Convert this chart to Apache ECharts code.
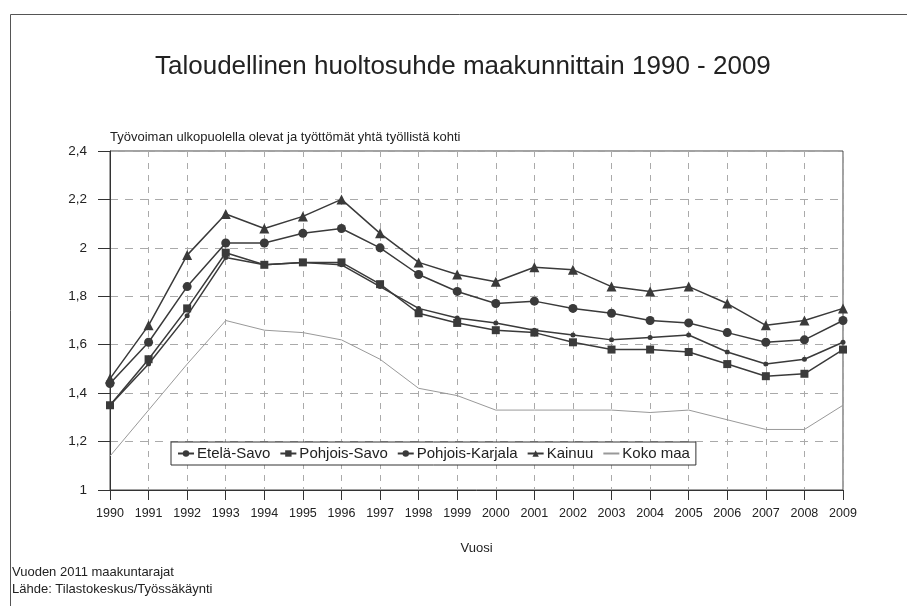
<!DOCTYPE html>
<html>
<head>
<meta charset="utf-8">
<script src="https://cdn.jsdelivr.net/npm/echarts@6/dist/echarts.min.js"></script>
<style>
  html, body { margin: 0; padding: 0; background: #fff; }
  #chart { width: 907px; height: 606px; }
</style>
</head>
<body>
<div id="chart"></div>
<script>
// Taloudellinen huoltosuhde maakunnittain 1990 - 2009
const years = ['1990','1991','1992','1993','1994','1995','1996','1997','1998','1999',
               '2000','2001','2002','2003','2004','2005','2006','2007','2008','2009'];
const etelaSavo      = [1.35,1.52,1.72,1.96,1.93,1.94,1.93,1.84,1.75,1.71,1.69,1.66,1.64,1.62,1.63,1.64,1.57,1.52,1.54,1.61];
const pohjoisSavo    = [1.35,1.54,1.75,1.98,1.93,1.94,1.94,1.85,1.73,1.69,1.66,1.65,1.61,1.58,1.58,1.57,1.52,1.47,1.48,1.58];
const pohjoisKarjala = [1.44,1.61,1.84,2.02,2.02,2.06,2.08,2.00,1.89,1.82,1.77,1.78,1.75,1.73,1.70,1.69,1.65,1.61,1.62,1.70];
const kainuu         = [1.46,1.68,1.97,2.14,2.08,2.13,2.20,2.06,1.94,1.89,1.86,1.92,1.91,1.84,1.82,1.84,1.77,1.68,1.70,1.75];
const kokoMaa        = [1.14,1.33,1.52,1.70,1.66,1.65,1.62,1.54,1.42,1.39,1.33,1.33,1.33,1.33,1.32,1.33,1.29,1.25,1.25,1.35];

const FONT = '"Liberation Sans", Arial, sans-serif';
const INK = '#222';
const LINE = '#3a3a3a';

function regionSeries(name, data, symbol, size) {
  return {
    name, type: 'line', data,
    symbol, symbolSize: size,
    lineStyle: { color: LINE, width: 1.5 },
    itemStyle: { color: LINE },
    emphasis: { disabled: true },
    animation: false
  };
}

const chart = echarts.init(document.getElementById('chart'), null, { renderer: 'canvas' });
chart.setOption({
  backgroundColor: '#fff',
  animation: false,
  textStyle: { fontFamily: FONT },
  title: {
    text: 'Taloudellinen huoltosuhde maakunnittain 1990 - 2009',
    left: 150, top: 49,
    textStyle: { fontFamily: FONT, fontSize: 26, fontWeight: 'normal', color: INK }
  },
  graphic: [
    { type: 'rect', z: -10, silent: true,
      shape: { x: 10.5, y: 14.5, width: 1000, height: 700 },
      style: { fill: 'none', stroke: '#555', lineWidth: 1 } },
    { type: 'text', left: 110, top: 131, silent: true,
      style: { text: 'Työvoiman ulkopuolella olevat ja työttömät yhtä työllistä kohti',
               font: '13px ' + FONT, fill: INK } },
    { type: 'text', left: 12, top: 564, silent: true,
      style: { text: 'Vuoden 2011 maakuntarajat\nLähde: Tilastokeskus/Työssäkäynti',
               font: '13px ' + FONT, fill: INK, lineHeight: 17 } }
  ],
  legend: {
    left: 171, top: 442,
    padding: [4, 6],
    itemGap: 9,
    itemWidth: 16, itemHeight: 8,
    backgroundColor: '#fff',
    borderColor: '#333', borderWidth: 1, borderRadius: 0,
    textStyle: { fontFamily: FONT, fontSize: 15, color: INK, padding: [0, 0, 0, -2] },
    data: [
      'Etelä-Savo', 'Pohjois-Savo', 'Pohjois-Karjala', 'Kainuu',
      { name: 'Koko maa', itemStyle: { opacity: 0 } }
    ]
  },
  grid: {
    left: 110, right: 64, top: 151, bottom: 116,
    show: true, borderColor: '#444', borderWidth: 1
  },
  xAxis: {
    type: 'category', data: years, boundaryGap: false,
    name: 'Vuosi', nameLocation: 'middle', nameGap: 52,
    nameTextStyle: { fontFamily: FONT, fontSize: 13, color: INK },
    axisLine: { lineStyle: { color: '#333', width: 1 } },
    axisTick: { show: true, length: 10, lineStyle: { color: '#333' } },
    axisLabel: { fontFamily: FONT, fontSize: 12.5, color: INK, margin: 17 },
    splitLine: { show: true, lineStyle: { color: '#aaa', type: [6, 6], width: 1 } }
  },
  yAxis: {
    type: 'value', min: 1, max: 2.4, interval: 0.2,
    axisLine: { show: true, lineStyle: { color: '#333', width: 1 } },
    axisTick: { show: true, length: 12, lineStyle: { color: '#333' } },
    axisLabel: {
      fontFamily: FONT, fontSize: 13.5, color: INK, margin: 23,
      formatter: v => String(Math.round(v * 10) / 10).replace('.', ',')
    },
    splitLine: { show: true, lineStyle: { color: '#aaa', type: [8, 7], width: 1 } }
  },
  series: [
    regionSeries('Etelä-Savo', etelaSavo, 'circle', 5),
    regionSeries('Pohjois-Savo', pohjoisSavo, 'rect', 8),
    regionSeries('Pohjois-Karjala', pohjoisKarjala, 'circle', 9),
    regionSeries('Kainuu', kainuu, 'triangle', 10),
    {
      name: 'Koko maa', type: 'line', data: kokoMaa,
      symbol: 'none', showSymbol: false,
      lineStyle: { color: '#999', width: 1 },
      itemStyle: { color: '#999' },
      emphasis: { disabled: true },
      animation: false
    }
  ]
});
</script>
</body>
</html>
